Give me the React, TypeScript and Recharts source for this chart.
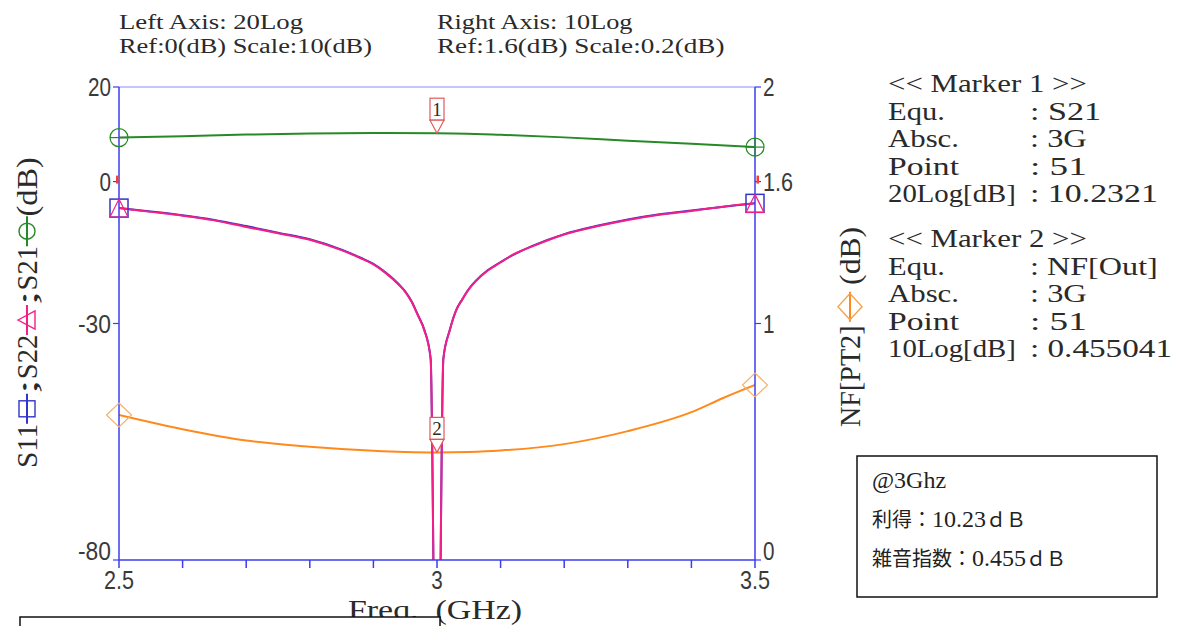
import React from 'react'
import { LineChart, Line, XAxis, YAxis, ReferenceLine, ReferenceDot } from 'recharts'

// ── 2.5〜3.5GHz 掃引結果 (Sパラメータ / NF) ─────────────────
const sFreq = [2.5, 2.55, 2.6, 2.65, 2.7, 2.75, 2.8, 2.85, 2.88, 2.9, 2.92, 2.94, 2.95, 2.96, 2.97, 2.98, 2.99, 3.0, 3.01, 3.02, 3.03, 3.04, 3.05, 3.06, 3.08, 3.1, 3.12, 3.15, 3.2, 3.25, 3.3, 3.35, 3.4, 3.45, 3.5]
const s11 = [-5.6, -6.3, -7.1, -8.1, -9.4, -10.8, -12.2, -14.4, -16.1, -17.4, -19.3, -21.7, -23.2, -25.3, -28.2, -31.3, -37.4, -140, -37.4, -31.4, -27.2, -24.8, -22.7, -21.1, -18.7, -17.0, -15.5, -13.6, -11.1, -9.4, -8.0, -6.9, -6.1, -5.3, -4.6]
const s22 = [-5.6, -6.4, -7.2, -8.2, -9.6, -10.9, -12.3, -14.5, -16.2, -17.5, -19.4, -21.8, -23.3, -25.4, -28.3, -31.4, -37.5, -140, -37.5, -31.5, -27.3, -24.9, -22.8, -21.2, -18.8, -17.1, -15.4, -13.7, -11.2, -9.5, -8.1, -7.0, -6.2, -5.3, -4.6]

const gainFreq = [2.5, 2.6, 2.7, 2.8, 2.9, 3.0, 3.1, 3.2, 3.3, 3.4, 3.5]
const s21 = [9.3, 9.6, 9.95, 10.15, 10.25, 10.23, 9.9, 9.35, 8.65, 8.0, 7.3]

const nfFreq = [2.5, 2.6, 2.7, 2.8, 2.9, 2.95, 3.0, 3.05, 3.1, 3.2, 3.3, 3.4, 3.45, 3.5]
const nf = [0.613, 0.553, 0.505, 0.479, 0.462, 0.457, 0.455, 0.457, 0.463, 0.49, 0.545, 0.625, 0.685, 0.74]

const xTicks = [2.5, 2.6, 2.7, 2.8, 2.9, 3, 3.1, 3.2, 3.3, 3.4, 3.5]
const xLabels = [2.5, 3, 3.5]
const leftTicks = [-80, -30, 0, 20]
const rightTicks = [0, 1, 1.6, 2]

const markerFreq = 3
const markerGain = 10.2321
const markerNf = 0.455041

const headerLeft = ['Left Axis: 20Log', 'Ref:0(dB) Scale:10(dB)']
const headerRight = ['Right Axis: 10Log', 'Ref:1.6(dB) Scale:0.2(dB)']
const marker1 = [['<< Marker 1 >>', ''], ['Equ.', ': S21'], ['Absc.', ': 3G'], ['Point', ': 51'], ['20Log[dB]', ': 10.2321']]
const marker2 = [['<< Marker 2 >>', ''], ['Equ.', ': NF[Out]'], ['Absc.', ': 3G'], ['Point', ': 51'], ['10Log[dB]', ': 0.455041']]
// [和文, 数値, 単位]
const noteLines = [['', '@3Ghz', ''], ['利得：', '10.23', 'ｄＢ'], ['雑音指数：', '0.455', 'ｄＢ']]

// ── estilo ──
const BLUE = '#3c3cf0'
const SERIF = "'Liberation Serif', 'DejaVu Serif', serif"
const SANS = "'Liberation Sans', Arial, sans-serif"
const JP = "'Noto Sans CJK JP', 'Liberation Serif', serif"
const TXT = '#2a2a2a'

const C_S11 = '#3434c8'
const C_S22 = '#f51e86'
const C_S21 = '#268a26'
const C_NF = '#ff8a1c'

const sTable = sFreq.map((f, i) => ({ f, s11: s11[i], s22: s22[i] }))
const gainTable = gainFreq.map((f, i) => ({ f, s21: s21[i] }))
const nfTable = nfFreq.map((f, i) => ({ f, nf: nf[i] }))

const numW = (s: string) => [...s].reduce((w, c) => w + (c === '.' ? 7 : c === '-' ? 10 : 11.5), 0)

const TickText = ({ x, y, s, anchor }: { x: number; y: number; s: string; anchor: 'start' | 'middle' | 'end' }) => (
  <text x={x} y={y} textAnchor={anchor} fontFamily={SANS} fontSize={25} fill="#3a3a3a"
    textLength={numW(s)} lengthAdjust="spacingAndGlyphs">{s}</text>
)

const LeftTick = (p: any) => {
  const v = p.payload.value
  return <TickText x={p.x} y={v === leftTicks[0] ? p.y : p.y + 9} s={String(v)} anchor="end" />
}
const RightTick = (p: any) => {
  const v = p.payload.value
  return <TickText x={p.x} y={v === rightTicks[0] ? p.y : p.y + 9} s={String(v)} anchor="start" />
}
const XTick = (p: any) => {
  const v = p.payload.value
  if (!xLabels.some((l) => Math.abs(l - v) < 1e-6)) return <g />
  return <TickText x={p.x} y={p.y + 19} s={String(v)} anchor="middle" />
}

// ── marcas de extremos ──
const SquareMark = ({ cx, cy }: any) => (
  <rect x={cx - 9} y={cy - 9} width={18} height={18} fill="none" stroke={C_S11} strokeWidth={1.5} />
)
const TriMark = ({ cx, cy }: any) => (
  <path d={`M${cx},${cy - 9} L${cx + 9},${cy + 9} L${cx - 9},${cy + 9} Z`} fill="none" stroke={C_S22} strokeWidth={1.2} />
)
const CircleMark = (cross: boolean) => ({ cx, cy }: any) => (
  <g stroke={C_S21} strokeWidth={1.2} fill="none">
    <circle cx={cx} cy={cy} r={9} />
    <line x1={cx - 9} y1={cy} x2={cx + 9} y2={cy} />
    {cross && <line x1={cx} y1={cy - 9} x2={cx} y2={cy + 9} />}
  </g>
)
const DiamondMark = ({ cx, cy }: any) => (
  <path d={`M${cx},${cy - 12} L${cx + 12.5},${cy} L${cx},${cy + 12} L${cx - 12.5},${cy} Z`} fill="none" stroke="#f3b26c" strokeWidth={1.2} />
)
const RefMark = (dx: number) => ({ cx, cy }: any) => (
  <rect x={cx + dx} y={cy - 6} width={2.5} height={8} fill="#f04040" />
)
const Flag = (label: string) => ({ cx, cy }: any) => (
  <g>
    <rect x={cx - 7} y={cy - 35} width={14} height={22} fill="#fff" stroke="#e05a5a" strokeWidth={1.2} />
    <path d={`M${cx - 7},${cy - 13} L${cx + 7},${cy - 13} L${cx},${cy} Z`} fill="#fff" stroke="#e05a5a" strokeWidth={1.2} />
    <text x={cx} y={cy - 17} textAnchor="middle" fontFamily={SERIF} fontSize={19} fill={TXT}>{label}</text>
  </g>
)

// ── títulos de eje con símbolo de serie ──
const LegendSym = ({ x, kind, color }: { x: number; kind: string; color: string }) => {
  const y = -10
  return (
    <g stroke={color} fill="none" strokeWidth={1.4}>
      <line x1={x - 15} y1={y} x2={x + 15} y2={y} strokeWidth={2} />
      {kind === 'square' && <rect x={x - 8} y={y - 8} width={16} height={16} />}
      {kind === 'tri' && <path d={`M${x},${y - 9} L${x + 9},${y + 8} L${x - 9},${y + 8} Z`} />}
      {kind === 'circle' && <circle cx={x} cy={y} r={8} />}
      {kind === 'diamond' && <path d={`M${x},${y - 12} L${x + 13},${y} L${x},${y + 12} L${x - 13},${y} Z`} stroke="#f3a14c" />}
    </g>
  )
}

const Seg = ({ x, s, cells, c }: { x: number; s: string; cells: number; c: number }) => (
  <text x={x} y={0} fontFamily={SERIF} fontSize={29} fill={TXT} textLength={cells * c} lengthAdjust="spacingAndGlyphs">{s}</text>
)

function LeftTitle() {
  const c = 14.8
  return (
    <g transform="translate(37,468) rotate(-90)">
      <Seg x={0} s="S11" cells={3} c={c} />
      <LegendSym x={4 * c} kind="square" color={C_S11} />
      <Seg x={5 * c} s=";" cells={1} c={c} />
      <Seg x={6 * c} s="S22" cells={3} c={c} />
      <LegendSym x={10 * c} kind="tri" color={C_S22} />
      <Seg x={11 * c} s=";" cells={1} c={c} />
      <Seg x={12 * c} s="S21" cells={3} c={c} />
      <LegendSym x={16 * c} kind="circle" color={C_S21} />
      <Seg x={17 * c} s="(dB)" cells={4} c={c} />
    </g>
  )
}

function RightTitle() {
  const c = 14.5
  return (
    <g transform="translate(860,427) rotate(-90)">
      <Seg x={0} s="NF[PT2]" cells={7} c={c} />
      <LegendSym x={8.3 * c} kind="diamond" color={C_NF} />
      <Seg x={9.8 * c} s="(dB)" cells={4} c={c} />
    </g>
  )
}

const MonoLine = ({ x, y, s, cw, size }: { x: number; y: number; s: string; cw: number; size: number }) =>
  s ? (
    <text x={x} y={y} fontFamily={SERIF} fontSize={size} fill={TXT} style={{ whiteSpace: 'pre' }}
      textLength={s.length * cw} lengthAdjust="spacingAndGlyphs">{s}</text>
  ) : null

function Annotations() {
  const mk = (rows: string[][], y0: number) =>
    rows.map(([a, b], i) => (
      <g key={i}>
        <MonoLine x={888} y={y0 + i * 27.6} s={a} cw={14.2} size={25} />
        <MonoLine x={888 + 10 * 14.2} y={y0 + i * 27.6} s={b} cw={14.2} size={25} />
      </g>
    ))
  return (
    <svg width={1189} height={626} style={{ position: 'absolute', left: 0, top: 0, pointerEvents: 'none' }}>
      {headerLeft.map((s, i) => <MonoLine key={'l' + i} x={119} y={29 + i * 24} s={s} cw={11.5} size={20} />)}
      {headerRight.map((s, i) => <MonoLine key={'r' + i} x={437} y={29 + i * 24} s={s} cw={11.5} size={20} />)}
      {mk(marker1, 92)}
      {mk(marker2, 247)}
      <LeftTitle />
      <RightTitle />
      <MonoLine x={348} y={619} s="Freq.  (GHz)" cw={14.5} size={28} />
      <rect x={20} y={617} width={420} height={30} fill="#fff" stroke="#111" strokeWidth={1.5} />
      <rect x={857} y={456} width={300} height={141} fill="#fff" stroke="#111" strokeWidth={1.5} />
      {noteLines.map(([jp, num, unit], i) => (
        <text key={i} x={872} y={488 + i * 39} fontFamily={JP} fontSize={20} fill="#222">
          {jp}<tspan fontFamily={SERIF} fontSize={24}>{num}</tspan>{unit}
        </text>
      ))}
    </svg>
  )
}

export default function App() {
  return (
    <div style={{ position: 'absolute', left: 0, top: 0, width: 1189, height: 626, background: '#fff' }}>
      <LineChart width={1189} height={626} margin={{ top: 87, right: 394, bottom: 36, left: 79 }}>
        <XAxis dataKey="f" type="number" domain={[2.5, 3.5]} ticks={xTicks} interval={0} allowDataOverflow
          height={30} tickSize={8} tickMargin={2}
          axisLine={{ stroke: BLUE, strokeWidth: 1.5 }} tickLine={{ stroke: BLUE, strokeWidth: 1.5 }} tick={XTick} />
        <YAxis yAxisId="left" type="number" domain={[-80, 20]} ticks={leftTicks} interval={0} allowDataOverflow
          width={40} tickSize={6} tickMargin={2}
          axisLine={{ stroke: BLUE, strokeWidth: 1.5 }} tickLine={{ stroke: BLUE, strokeWidth: 1.2 }} tick={LeftTick} />
        <YAxis yAxisId="right" orientation="right" type="number" domain={[0, 2]} ticks={rightTicks} interval={0}
          width={40} tickSize={6} tickMargin={2}
          axisLine={{ stroke: BLUE, strokeWidth: 1.5 }} tickLine={{ stroke: BLUE, strokeWidth: 1.2 }} tick={RightTick} />
        <ReferenceLine yAxisId="left" y={20} stroke="#8c8cff" strokeWidth={1.2} />

        <Line data={nfTable} yAxisId="right" dataKey="nf" type="monotone" stroke={C_NF} strokeWidth={2}
          dot={false} activeDot={false} isAnimationActive={false} />
        <Line data={gainTable} yAxisId="left" dataKey="s21" type="monotone" stroke={C_S21} strokeWidth={2}
          dot={false} activeDot={false} isAnimationActive={false} />
        <Line data={sTable} yAxisId="left" dataKey="s11" type="monotone" stroke={C_S11} strokeWidth={2}
          dot={false} activeDot={false} isAnimationActive={false} />
        <Line data={sTable} yAxisId="left" dataKey="s22" type="monotone" stroke={C_S22} strokeWidth={2}
          dot={false} activeDot={false} isAnimationActive={false} />

        <ReferenceDot yAxisId="left" x={2.5} y={0} shape={RefMark(-3)} />
        <ReferenceDot yAxisId="right" x={3.5} y={1.6} shape={RefMark(1.5)} />

        <ReferenceDot yAxisId="left" x={gainFreq[0]} y={s21[0]} shape={CircleMark(false)} />
        <ReferenceDot yAxisId="left" x={gainFreq[gainFreq.length - 1]} y={s21[s21.length - 1]} shape={CircleMark(true)} />
        <ReferenceDot yAxisId="left" x={sFreq[0]} y={s11[0]} shape={SquareMark} />
        <ReferenceDot yAxisId="left" x={sFreq[sFreq.length - 1]} y={s11[s11.length - 1]} shape={SquareMark} />
        <ReferenceDot yAxisId="left" x={sFreq[0]} y={s22[0]} shape={TriMark} />
        <ReferenceDot yAxisId="left" x={sFreq[sFreq.length - 1]} y={s22[s22.length - 1]} shape={TriMark} />
        <ReferenceDot yAxisId="right" x={nfFreq[0]} y={nf[0]} shape={DiamondMark} />
        <ReferenceDot yAxisId="right" x={nfFreq[nfFreq.length - 1]} y={nf[nf.length - 1]} shape={DiamondMark} />

        <ReferenceDot yAxisId="left" x={markerFreq} y={markerGain} shape={Flag('1')} />
        <ReferenceDot yAxisId="right" x={markerFreq} y={markerNf} shape={Flag('2')} />
      </LineChart>
      <Annotations />
    </div>
  )
}
